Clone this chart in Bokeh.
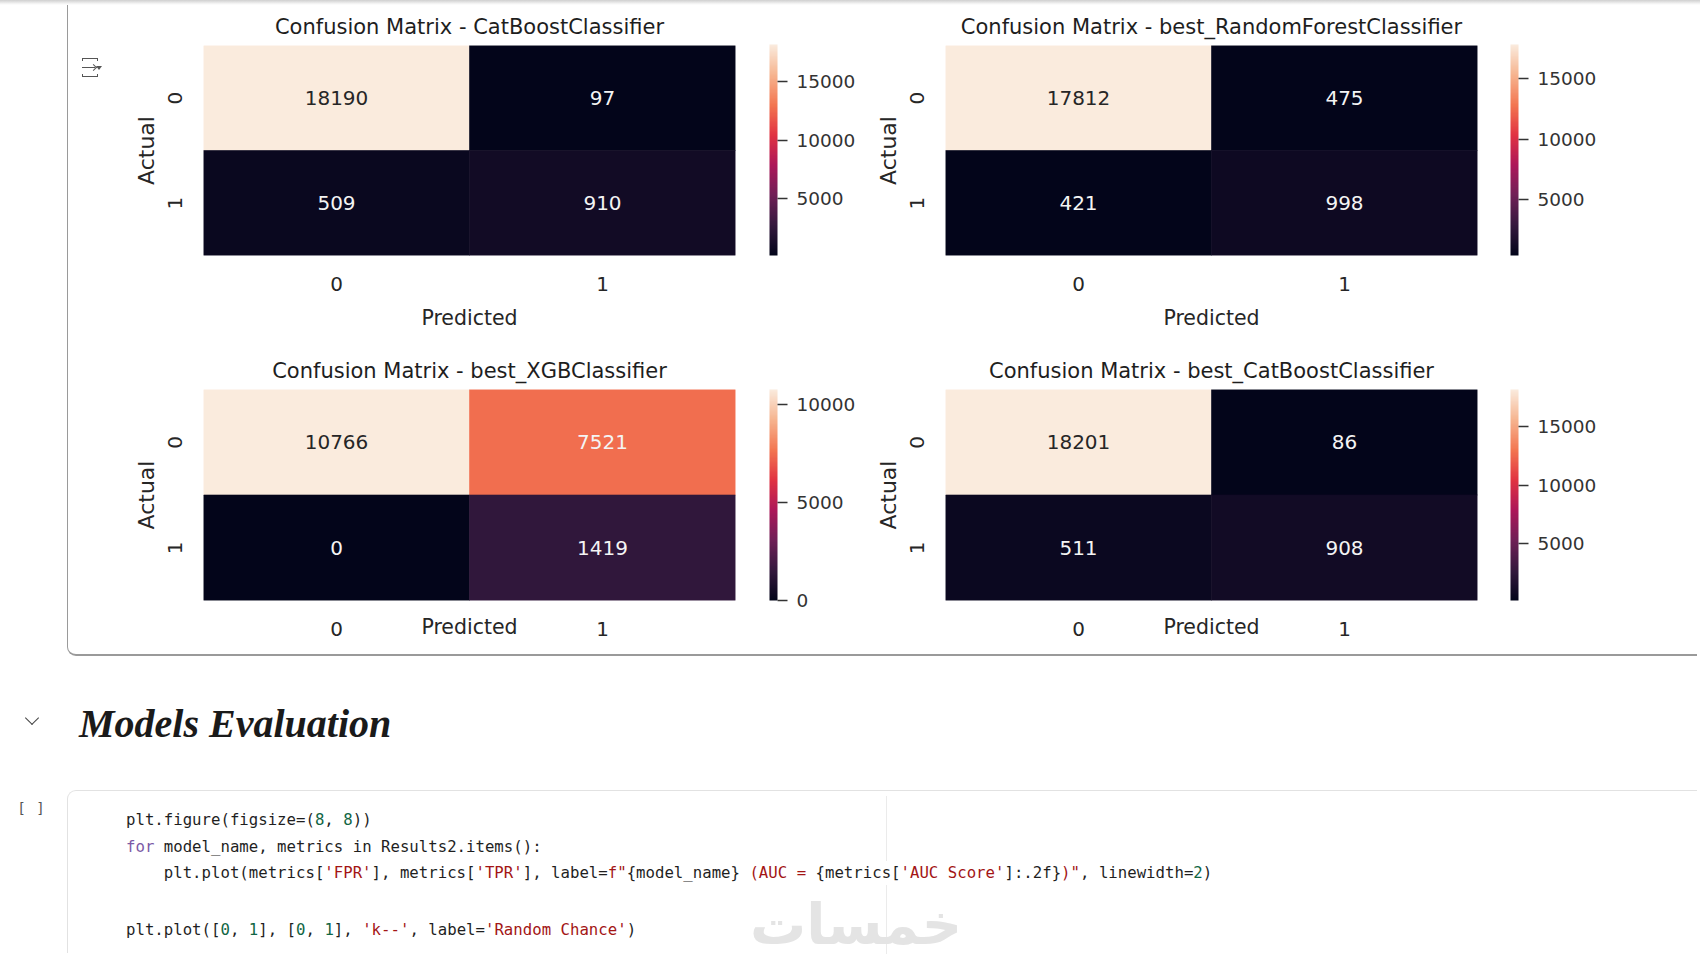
import numpy as np
from bokeh.plotting import figure
from bokeh.models import ColumnDataSource, LinearColorMapper, ColorBar, FixedTicker, Div
from bokeh.layouts import row, column
from bokeh.transform import transform
from bokeh.embed import file_html
from bokeh.resources import INLINE

# ---------------- data ----------------
model_names = ["CatBoostClassifier", "best_RandomForestClassifier",
               "best_XGBClassifier", "best_CatBoostClassifier"]
actual_labels = ["0", "0", "1", "1"]
predicted_labels = ["0", "1", "0", "1"]
cm_catboost = [18190, 97, 509, 910]
cm_random_forest = [17812, 475, 421, 998]
cm_xgb = [10766, 7521, 0, 1419]
cm_best_catboost = [18201, 86, 511, 908]
cbar_ticks_catboost = [5000, 10000, 15000]
cbar_ticks_random_forest = [5000, 10000, 15000]
cbar_ticks_xgb = [0, 5000, 10000]
cbar_ticks_best_catboost = [5000, 10000, 15000]
x_axis_title = "Predicted"
y_axis_title = "Actual"

# ---------------- style ----------------
ROCKET_ANCHORS = ["#03051a", "#35193e", "#701f57", "#ad1759",
                  "#e13342", "#f37651", "#f6b48f", "#faebdd"]


def build_palette(anchors, n=256):
    rgb = np.array([[int(h[i:i + 2], 16) for i in (1, 3, 5)] for h in anchors], float)
    pos = np.linspace(0, 1, len(anchors))
    out = []
    for t in np.linspace(0, 1, n):
        c = [np.interp(t, pos, rgb[:, k]) for k in range(3)]
        out.append("#%02x%02x%02x" % tuple(int(round(v)) for v in c))
    return out


ROCKET = build_palette(ROCKET_ANCHORS)
FONT = "DejaVu Sans"
DARK = "#262626"


def text_color_for(v, lo, hi):
    t = 0 if hi == lo else (v - lo) / (hi - lo)
    h = ROCKET[int(round(t * (len(ROCKET) - 1)))]
    r, g, b = [int(h[i:i + 2], 16) / 255 for i in (1, 3, 5)]
    lin = lambda c: c / 12.92 if c <= 0.04045 else ((c + 0.055) / 1.055) ** 2.4
    lum = 0.2126 * lin(r) + 0.7152 * lin(g) + 0.0722 * lin(b)
    return DARK if lum > 0.408 else "#f4f4f4"


def cm_figure(name, counts, ticks, width, height, bl, br, bt, bb,
              cb_offset, title_standoff, xlabel_standoff):
    lo, hi = min(counts), max(counts)
    mapper = LinearColorMapper(palette=ROCKET, low=lo, high=hi)
    src = ColumnDataSource(dict(
        pred=predicted_labels, act=actual_labels, count=counts,
        label=[str(v) for v in counts],
        tcolor=[text_color_for(v, lo, hi) for v in counts]))
    p = figure(width=width, height=height, x_range=["0", "1"], y_range=["1", "0"],
               output_backend="svg", toolbar_location=None,
               min_border_left=bl, min_border_right=br,
               min_border_top=bt, min_border_bottom=bb,
               title="Confusion Matrix - " + name)
    p.outline_line_color = None
    p.grid.visible = False
    p.background_fill_color = "white"
    p.border_fill_color = "white"
    p.title.text_font = FONT
    p.title.text_font_size = "21px"
    p.title.text_font_style = "normal"
    p.title.text_color = "#1e1e1e"
    p.title.align = "center"
    p.title.standoff = title_standoff

    p.rect(x="pred", y="act", width=1, height=1, source=src,
           fill_color=transform("count", mapper),
           line_color=transform("count", mapper), line_width=0.6)
    p.text(x="pred", y="act", text="label", text_color="tcolor", source=src,
           text_align="center", text_baseline="middle",
           text_font={"value": FONT}, text_font_size={"value": "20px"})

    for ax in (p.xaxis[0], p.yaxis[0]):
        ax.axis_line_color = None
        ax.major_tick_line_color = None
        ax.minor_tick_line_color = None
        ax.major_tick_in = 0
        ax.major_tick_out = 0
        ax.major_label_text_font = FONT
        ax.major_label_text_font_size = "20px"
        ax.major_label_text_color = DARK
        ax.axis_label_text_font = FONT
        ax.axis_label_text_font_style = "normal"
        ax.axis_label_text_color = DARK
    p.xaxis.major_label_standoff = 21
    p.yaxis.major_label_standoff = 22
    p.yaxis.major_label_orientation = "vertical"
    p.yaxis.axis_label = y_axis_title
    p.yaxis.axis_label_text_font_size = "22px"
    p.yaxis.axis_label_standoff = 6
    p.xaxis.axis_label = x_axis_title
    p.xaxis.axis_label_text_font_size = "20.5px"
    p.xaxis.axis_label_standoff = xlabel_standoff

    frame_w = width - bl - br
    frame_h = height - bt - bb
    cb = ColorBar(color_mapper=mapper, ticker=FixedTicker(ticks=ticks),
                  location=(frame_w + cb_offset, 0), width=8, height=frame_h,
                  padding=0, margin=0, major_tick_in=0, major_tick_out=10,
                  major_tick_line_color="#333333", major_tick_line_width=1.5,
                  label_standoff=9, bar_line_color=None, border_line_color=None,
                  background_fill_alpha=0,
                  major_label_text_font=FONT, major_label_text_font_size="18.5px",
                  major_label_text_color="#333333")
    p.add_layout(cb, "center")
    return p


f1 = cm_figure(model_names[0], cm_catboost, cbar_ticks_catboost,
               757, 335, 100, 125, 39, 85, 34, 14, 12)
f2 = cm_figure(model_names[1], cm_random_forest, cbar_ticks_random_forest,
               840, 335, 85, 223, 39, 85, 33, 14, 12)
f3 = cm_figure(model_names[2], cm_xgb, cbar_ticks_xgb,
               757, 306, 100, 125, 49, 46, 34, 14, -24)
f4 = cm_figure(model_names[3], cm_best_catboost, cbar_ticks_best_catboost,
               840, 306, 85, 223, 49, 46, 33, 14, -24)

LINE = "#9a9a9a"
top_strip = Div(width=1700, height=5, margin=0, text="",
                styles={"background": "linear-gradient(#cfcfcf, #f3f3f3 70%, #ffffff)"})

icon_html = (
    '<div style="position:absolute;left:82px;top:53px;width:19px;height:22px;">'
    '<div style="position:absolute;left:0;top:0;width:16px;height:3px;'
    'border:1.8px solid #555;border-bottom:none;"></div>'
    '<div style="position:absolute;left:0;top:9px;width:13px;height:0;'
    'border-top:1.8px solid #555;"></div>'
    '<div style="position:absolute;left:9px;top:6.5px;width:5px;height:5px;'
    'border-top:1.8px solid #555;border-right:1.8px solid #555;transform:rotate(45deg);"></div>'
    '<div style="position:absolute;left:14px;top:8px;width:0;height:0;'
    'border-left:3.5px solid transparent;border-right:3.5px solid transparent;'
    'border-top:4px solid #555;"></div>'
    '<div style="position:absolute;left:0;top:16px;width:16px;height:3px;'
    'border:1.8px solid #555;border-top:none;"></div>'
    '</div>'
)
# gutter of the output cell: 5px strip + 641px figures -> ends at y=646
gutter = Div(width=103, height=641, margin=0,
             text='<div style="position:relative;width:103px;height:641px;">'
                  f'<div style="position:absolute;left:67px;top:0;width:0;height:641px;'
                  f'border-left:1.5px solid {LINE};"></div>' + icon_html + '</div>')

STR = "#a31515"
NUM = "#116644"
KW = "#7b5aa6"


def s(t, c):
    return f'<span style="color:{c}">{t}</span>'


code_lines = [
    "plt.figure(figsize=(" + s("8", NUM) + ", " + s("8", NUM) + "))",
    s("for", KW) + " model_name, metrics in Results2.items():",
    "    plt.plot(metrics[" + s("'FPR'", STR) + "], metrics[" + s("'TPR'", STR)
    + "], label=" + s('f"', STR) + "{model_name} " + s("(AUC =", STR)
    + " {metrics[" + s("'AUC Score'", STR) + "]:.2f}" + s(')"', STR)
    + ", linewidth=" + s("2", NUM) + ")",
    "plt.plot([" + s("0", NUM) + ", " + s("1", NUM) + "], [" + s("0", NUM) + ", "
    + s("1", NUM) + "], " + s("'k--'", STR) + ", label=" + s("'Random Chance'", STR) + ")",
]
code_tops = [160, 187, 213, 270]
code_html = "".join(
    f'<div style="position:absolute;left:126px;top:{t}px;width:1200px;line-height:27px;'
    f'white-space:pre;font-family:\'DejaVu Sans Mono\',monospace;font-size:15.7px;'
    f'color:#1f1f1f;">{ln}</div>'
    for ln, t in zip(code_lines, code_tops))

# faint editor ruler, interrupted where the long code line passes
ruler_html = (
    '<div style="position:absolute;left:886px;top:150px;width:1px;height:65px;'
    'background:#ebebeb;"></div>'
    '<div style="position:absolute;left:886px;top:239px;width:1px;height:69px;'
    'background:#ebebeb;"></div>'
)

bottom_html = (
    '<div style="position:relative;width:1700px;height:308px;overflow:hidden;">'
    f'<div style="position:absolute;left:67px;top:0px;width:1630px;height:10px;'
    f'border-left:1.5px solid {LINE};border-bottom:2px solid {LINE};'
    'border-bottom-left-radius:9px;"></div>'
    '<div style="position:absolute;left:27px;top:67px;width:10px;height:10px;'
    'border-right:1.8px solid #444;border-bottom:1.8px solid #444;'
    'transform:rotate(45deg);"></div>'
    '<div style="position:absolute;left:79px;top:58px;white-space:nowrap;'
    'font-family:\'Liberation Serif\',serif;font-style:italic;font-weight:bold;'
    'font-size:40px;line-height:40px;color:#1a1a1a;">Models Evaluation</div>'
    '<div style="position:absolute;left:16px;top:152px;width:34px;text-align:center;'
    'font-family:\'DejaVu Sans\';font-size:14px;line-height:20px;letter-spacing:4px;'
    'color:#555;">[ ]</div>'
    '<div style="position:absolute;left:67px;top:144px;width:1630px;height:163px;'
    'border-left:1.5px solid #e2e2e2;border-top:1.5px solid #e2e2e2;'
    'border-top-left-radius:9px;"></div>'
    + ruler_html + code_html +
    '<div style="position:absolute;left:746px;top:254px;width:220px;white-space:nowrap;'
    'font-family:\'DejaVu Sans\';font-weight:bold;font-size:56px;line-height:50px;'
    'color:#e4e4e4;direction:rtl;text-align:center;">خمسات</div>'
    '</div>'
)
bottom = Div(width=1700, height=308, margin=0, text=bottom_html)

grid = column(row(f1, f2), row(f3, f4))
root = column(top_strip, row(gutter, grid), bottom)

open("out.html", "w").write(file_html(root, INLINE))
